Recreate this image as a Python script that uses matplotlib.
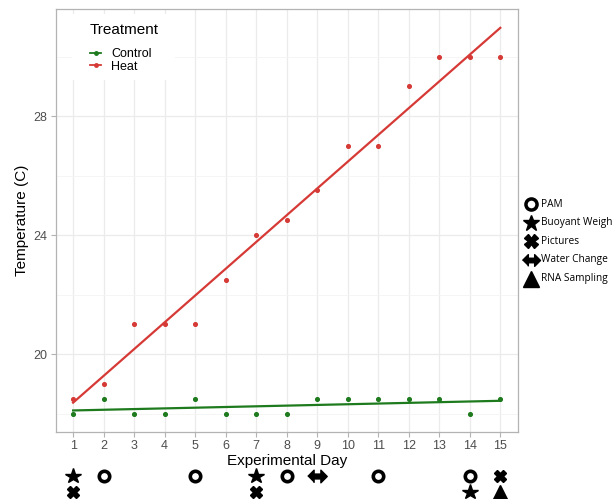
import numpy as np
import matplotlib.pyplot as plt
from matplotlib.lines import Line2D
from matplotlib.patches import Rectangle

plt.rcParams['font.family'] = ['Liberation Sans', 'DejaVu Sans']

days = list(range(1, 16))
heat = [18.5, 19, 21, 21, 21, 22.5, 24, 24.5, 25.5, 27, 27, 29, 30, 30, 30]
control = [18, 18.5, 18, 18, 18.5, 18, 18, 18, 18.5, 18.5, 18.5, 18.5, 18.5, 18, 18.5]

# event markers below the axis: (day, row)
pam_days = [2, 5, 8, 11, 14]
weigh_days = [(1, 0), (7, 0), (14, 1)]
picture_days = [(1, 1), (7, 1), (15, 0)]
water_days = [9]
rna_days = [15]

event_names = ['PAM', 'Buoyant Weigh', 'Pictures', 'Water Change', 'RNA Sampling']

red = '#d63a36'
green = '#1d7a1d'
grid_c = '#ebebeb'

W, H = 616, 499
fig = plt.figure(figsize=(W / 100, H / 100), dpi=100)
ax_l, ax_r, ax_t, ax_b = 55.5, 518.3, 9, 432
ax = fig.add_axes([ax_l / W, 1 - ax_b / H, (ax_r - ax_l) / W, (ax_b - ax_t) / H])

xlim = (0.423, 15.59)
ax.set_xlim(*xlim)
ax.set_ylim(17.38, 31.6)

for d in days:
    ax.axvline(d, color=grid_c, lw=0.9, zorder=0)
for y in [18, 22, 26, 30]:
    ax.axhline(y, color='#f4f4f4', lw=0.6, zorder=0)
for y in [20, 24, 28]:
    ax.axhline(y, color=grid_c, lw=0.9, zorder=0)

x = np.array(days)
for vals, col in [(control, green), (heat, red)]:
    ax.scatter(days, vals, s=7, color=col, zorder=3)
    m, b = np.polyfit(x, vals, 1)
    ax.plot([1, 15], [m * 1 + b, m * 15 + b], color=col, lw=1.6, zorder=2)

ax.set_xticks(days)
ax.set_yticks([20, 24, 28])
ax.tick_params(colors='#b3b3b3', labelcolor='#4d4d4d', labelsize=9, length=3.5, width=0.8, pad=2.5)
for s in ax.spines.values():
    s.set_color('#b3b3b3')
    s.set_linewidth(0.9)
ax.set_xlabel('Experimental Day', fontsize=11, labelpad=1)
ax.set_ylabel('Temperature (C)', fontsize=11, labelpad=3)

# legend block with white background
bx0, bx1, by0, by1 = 72, 175, 14, 80
ax.add_patch(Rectangle(((bx0 - ax_l) / (ax_r - ax_l), 1 - (by1 - ax_t) / (ax_b - ax_t)),
                       (bx1 - bx0) / (ax_r - ax_l), (by1 - by0) / (ax_b - ax_t),
                       transform=ax.transAxes, facecolor='white', edgecolor='none', zorder=1))
ax.text((90 - ax_l) / (ax_r - ax_l), 1 - (30 - ax_t) / (ax_b - ax_t), 'Treatment',
        transform=ax.transAxes, fontsize=11, va='center', ha='left', zorder=4)
handles = [Line2D([], [], color=green, marker='o', ms=2.5, lw=1.3),
           Line2D([], [], color=red, marker='o', ms=2.5, lw=1.3)]
leg = ax.legend(handles, ['Control', 'Heat'], loc='upper left',
                bbox_to_anchor=((90 - ax_l) / (ax_r - ax_l), 1 - (48 - ax_t) / (ax_b - ax_t)),
                fontsize=9, handlelength=0.9, handletextpad=0.8, labelspacing=0.05,
                frameon=False, borderpad=0, borderaxespad=0)
leg.set_zorder(4)

# events strip under the axis
ev = fig.add_axes([ax_l / W, 0.0, (ax_r - ax_l) / W, 40 / H])
ev.set_xlim(*xlim)
ev.set_ylim(0, 40)
ev.axis('off')
rows = [23, 7]

arrow = [(-1, 0), (-0.35, 0.65), (-0.35, 0.25), (0.35, 0.25), (0.35, 0.65), (1, 0),
         (0.35, -0.65), (0.35, -0.25), (-0.35, -0.25), (-0.35, -0.65)]

ev.plot(pam_days, [rows[0]] * len(pam_days), 'o', ms=7.5, mfc='white', mec='black', mew=2.6, ls='none', clip_on=False)
ev.plot([d for d, r in weigh_days], [rows[r] for d, r in weigh_days], '*', ms=11.5, color='black', ls='none', clip_on=False)
ev.plot([d for d, r in picture_days], [rows[r] for d, r in picture_days], 'X', ms=9, color='black', ls='none', clip_on=False)
ev.plot(water_days, [rows[0]] * len(water_days), marker=arrow, ms=14, color='black', ls='none', clip_on=False)
ev.plot(rna_days, [rows[1]] * len(rna_days), '^', ms=10, color='black', ls='none', clip_on=False)

# right-hand key for the events
key = fig.add_axes([0.85, 0.4, 0.15, 0.21])
key.set_xlim(0, 1)
key.set_ylim(0, 5)
key.axis('off')
key_markers = [dict(marker='o', ms=8, mfc='white', mec='black', mew=2.5),
               dict(marker='*', ms=12, color='black'),
               dict(marker='X', ms=10, color='black'),
               dict(marker=arrow, ms=13, color='black'),
               dict(marker='^', ms=11, color='black')]
for i, (name, mk) in enumerate(zip(event_names, key_markers)):
    yy = 4.55 - i * 0.89
    key.plot([0.08], [yy], ls='none', clip_on=False, **mk)
    key.text(0.19, yy, name, fontsize=7.3, va='center', ha='left', family=['Open Sans', 'DejaVu Sans'], clip_on=False)

fig.savefig('out.png', dpi=100)
